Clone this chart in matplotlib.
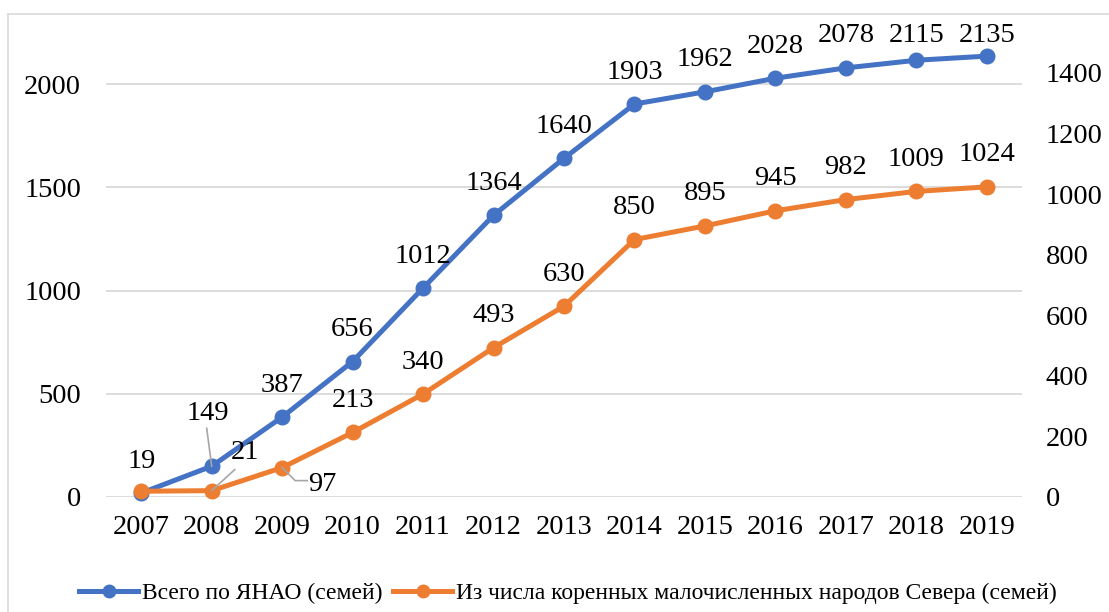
import matplotlib
matplotlib.use("Agg")
import matplotlib.pyplot as plt
from matplotlib.lines import Line2D

years = ["2007", "2008", "2009", "2010", "2011", "2012", "2013",
         "2014", "2015", "2016", "2017", "2018", "2019"]
total_yanao = [19, 149, 387, 656, 1012, 1364, 1640, 1903, 1962, 2028, 2078, 2115, 2135]
indigenous = [19, 21, 97, 213, 340, 493, 630, 850, 895, 945, 982, 1009, 1024]

label_total = "Всего по ЯНАО (семей)"
label_indig = "Из числа коренных малочисленных народов Севера (семей)"

left_ticks = [0, 500, 1000, 1500, 2000]
right_ticks = [0, 200, 400, 600, 800, 1000, 1200, 1400]

BLUE = "#4472C4"
ORANGE = "#ED7D31"
GRID = "#D9D9D9"
LEADER = "#A6A6A6"
FS = 20.5

plt.rcParams["font.family"] = ["Liberation Serif", "DejaVu Serif"]

W, H, DPI = 1109, 612, 100
fig = plt.figure(figsize=(W / DPI, H / DPI), dpi=DPI)

ax_left_px, ax_right_px = 106, 1022
ax_top_px, ax_bot_px = 20, 497
ax = fig.add_axes([ax_left_px / W, 1 - ax_bot_px / H,
                   (ax_right_px - ax_left_px) / W, (ax_bot_px - ax_top_px) / H])
ax2 = ax.twinx()

plot_h = ax_bot_px - ax_top_px
ax.set_ylim(0, 2000 * plot_h / 413.0)
ax2.set_ylim(0, 1400 * plot_h / 424.0)
x = list(range(len(years)))
ax.set_xlim(-0.5, len(years) - 0.5)

for a in (ax, ax2):
    for s in a.spines.values():
        s.set_visible(False)
    a.tick_params(length=0, labelsize=FS, colors="black")

ax.set_yticks(left_ticks)
ax.set_yticklabels([str(t) for t in left_ticks])
ax2.set_yticks(right_ticks)
ax2.set_yticklabels([str(t) for t in right_ticks])
ax.tick_params(axis="y", pad=18)
ax2.tick_params(axis="y", pad=17)
ax.set_xticks(x)
ax.set_xticklabels(years)
ax.tick_params(axis="x", pad=13)
ax.grid(axis="y", color=GRID, linewidth=1.3)
ax.set_axisbelow(True)

LW, MS = 3.6, 10.5
ax.plot(x, total_yanao, color=BLUE, linewidth=LW, marker="o", markersize=MS,
        zorder=3, clip_on=False)
ax2.plot(x, indigenous, color=ORANGE, linewidth=LW, marker="o", markersize=MS,
         zorder=3, clip_on=False)

fig.canvas.draw()


def disp(a, xi, yi):
    return a.transData.transform((xi, yi))


# data labels above each marker, kept inside the plot area
top_disp = ax.transAxes.transform((0, 1))[1]
special = {("t", 1), ("i", 1), ("i", 2)}


def put_labels(a, vals, key):
    for i, v in enumerate(vals):
        if (key, i) in special:
            continue
        if key == "i" and i == 0:
            continue
        px, py = disp(a, i, v)
        ly = min(py + 32, top_disp - 15)
        fig.text(px / W, ly / H, str(v), ha="center", va="center",
                 fontsize=FS, transform=fig.transFigure)


put_labels(ax, total_yanao, "t")
put_labels(ax2, indigenous, "i")


def leader_label(a, i, v, dx, dy, text, path):
    px, py = disp(a, i, v)
    fig.text((px + dx) / W, (py + dy) / H, text, ha="center", va="center",
             fontsize=FS)
    xs = [(px + p[0]) / W for p in path]
    ys = [(py + p[1]) / H for p in path]
    fig.add_artist(Line2D(xs, ys, color=LEADER, linewidth=1.2, zorder=5))


leader_label(ax, 1, total_yanao[1], -4, 53, "149", [(-5, 38), (0, 0)])
leader_label(ax2, 1, indigenous[1], 33, 38, "21", [(23, 21), (0, 0)])
leader_label(ax2, 2, indigenous[2], 40, -17, "97", [(0, 0), (13, -13), (25, -13)])

handles = [
    Line2D([], [], color=BLUE, linewidth=LW, marker="o", markersize=9),
    Line2D([], [], color=ORANGE, linewidth=LW, marker="o", markersize=9),
]
fig.legend(handles, [label_total, label_indig], loc="center",
           bbox_to_anchor=(0.512, 1 - 593 / H), ncol=2, frameon=False,
           fontsize=17, handlelength=2.5, handletextpad=0.15, columnspacing=0.45)

# chart frame
fig.add_artist(Line2D([8 / W, 8 / W], [0, 1 - 14 / H], color=GRID, linewidth=1.2))
fig.add_artist(Line2D([8 / W, 1], [1 - 14 / H, 1 - 14 / H], color=GRID, linewidth=1.2))

fig.savefig("out.png", dpi=DPI)
